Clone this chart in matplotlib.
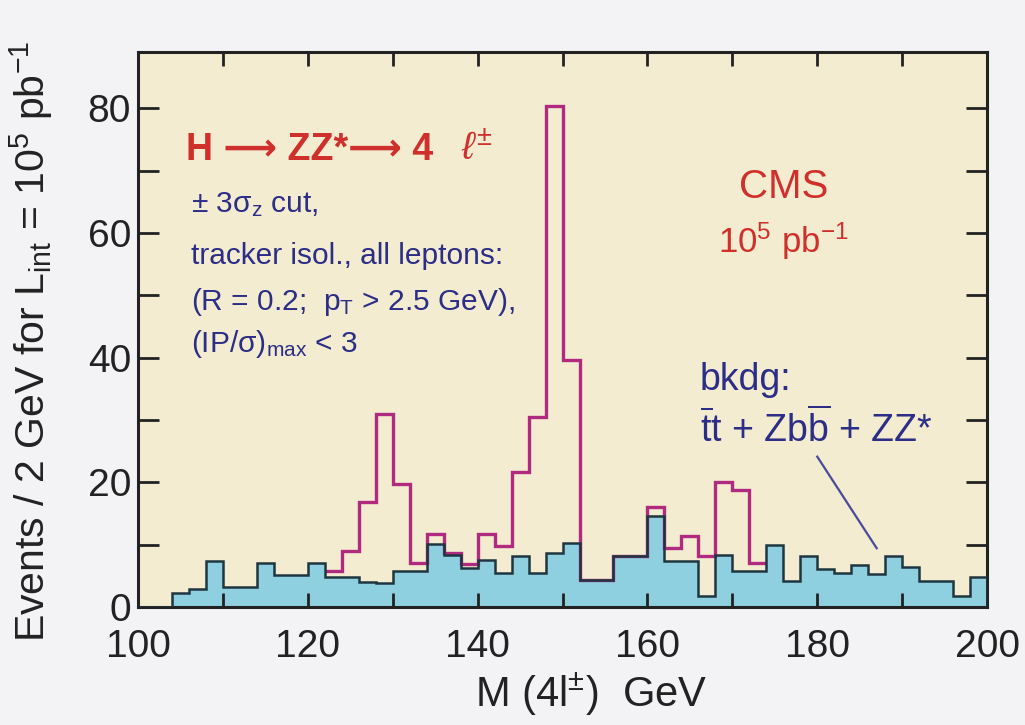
import numpy as np
import matplotlib
matplotlib.use("Agg")
import matplotlib.pyplot as plt
from matplotlib.ticker import MultipleLocator

plt.rcParams['font.family'] = ['Liberation Sans', 'DejaVu Sans']
plt.rcParams['mathtext.fontset'] = 'custom'
plt.rcParams['mathtext.rm'] = 'Liberation Sans'
plt.rcParams['mathtext.it'] = 'Liberation Sans:italic'
plt.rcParams['mathtext.bf'] = 'Liberation Sans:bold'
plt.rcParams['mathtext.sf'] = 'Liberation Sans'

# 2 GeV bins, 100..200 GeV
bin_edges = np.arange(100, 202, 2)

# background (tt + Zbb + ZZ*), one value per bin
bkg = [0, 0, 2.2, 2.9, 7.3, 3.2, 3.2, 7.0, 5.1, 5.1,
       7.1, 4.8, 4.8, 4.0, 3.8, 5.8, 5.8, 10.1, 8.3, 6.2,
       7.5, 5.5, 8.2, 5.5, 8.7, 10.3, 4.3, 4.3, 8.2, 8.2,
       14.5, 7.3, 7.3, 1.8, 8.3, 5.8, 5.8, 10.0, 4.2, 8.2,
       6.0, 5.4, 6.7, 5.3, 8.1, 6.4, 4.2, 4.2, 1.8, 4.8]

# signal + background, bins 122..174 GeV
sig_edges = np.arange(122, 176, 2)
total = [5.8, 8.9, 16.9, 31.0, 19.7, 7.1, 11.7, 8.7, 6.8, 11.7,
         9.8, 21.7, 30.5, 80.3, 39.6, 4.3, 4.3, 8.2, 8.2, 16.0,
         9.4, 11.4, 8.2, 20.0, 18.8, 7.1]

fig = plt.figure(figsize=(10.25, 7.25), dpi=100, facecolor="#f3f2f4")
ax = fig.add_axes([0.1346, 0.163, 0.8284, 0.765])
ax.set_facecolor("#f3ecd0")

ax.stairs(bkg, bin_edges, fill=True, color="#8fd0e0", zorder=1)
ax.stairs(total, sig_edges, baseline=None, color="#b02a80", lw=2.4, zorder=2)
ax.stairs(bkg, bin_edges, color="#1f3540", lw=1.8, zorder=3)

ax.set_xlim(100, 200)
ax.set_ylim(0, 89)
ax.xaxis.set_major_locator(MultipleLocator(20))
ax.xaxis.set_minor_locator(MultipleLocator(10))
ax.yaxis.set_major_locator(MultipleLocator(20))
ax.yaxis.set_minor_locator(MultipleLocator(10))
ax.tick_params(axis="both", which="both", direction="in", top=True, right=True,
               width=2, color="#222222", labelsize=28, labelcolor="#222222")
ax.tick_params(axis="x", which="both", length=10, pad=16)
ax.tick_params(axis="y", which="both", length=15, pad=5)
for s in ax.spines.values():
    s.set_linewidth(2.2)
    s.set_color("#222222")

ax.set_xlabel(r"M (4l$^{\pm}$)  GeV", fontsize=30, color="#222222")
ax.xaxis.set_label_coords(0.534, -0.115)
ax.set_ylabel(r"Events / 2 GeV for L$_{\rm int}$ = 10$^5$ pb$^{-1}$", fontsize=29.5, color="#222222")
ax.yaxis.set_label_coords(-0.098, 0.478)

red = "#d0302c"
blue = "#2b2d86"
ax.text(105.6, 71.7, "H \u27f6 ZZ*\u27f6 4", color=red, fontsize=27, fontweight="bold",
        family=["Liberation Sans", "DejaVu Sans"], va="baseline")
ax.text(138.0, 71.7, r"$\ell^{\pm}$", color=red, fontsize=28, va="baseline")
cuts = [r"± 3σ$_{\rm z}$ cut,",
        "tracker isol., all leptons:",
        r"(R = 0.2;  p$_{\rm T}$ > 2.5 GeV),",
        r"(IP/σ)$_{\rm max}$ < 3"]
cut_y = [63.4, 55.0, 47.7, 40.9]
for t, y in zip(cuts, cut_y):
    ax.text(106.2, y, t, color=blue, fontsize=21.5, va="baseline")

ax.text(176.1, 65.6, "CMS", color=red, fontsize=29, ha="center", va="baseline")
ax.text(176.0, 56.8, r"10$^5$ pb$^{-1}$", color=red, fontsize=25, ha="center", va="baseline")
ax.text(166.2, 34.8, "bkdg:", color=blue, fontsize=27, va="baseline")
ax.text(166.2, 26.5, r"$\overline{\rm t}$t + Zb$\overline{\rm b}$ + ZZ*", color=blue,
        fontsize=27, va="baseline")
ax.plot([180.0, 187.0], [24.1, 9.4], color="#4a4a9a", lw=1.6, zorder=4)

fig.savefig("out.png", dpi=100, facecolor=fig.get_facecolor())
